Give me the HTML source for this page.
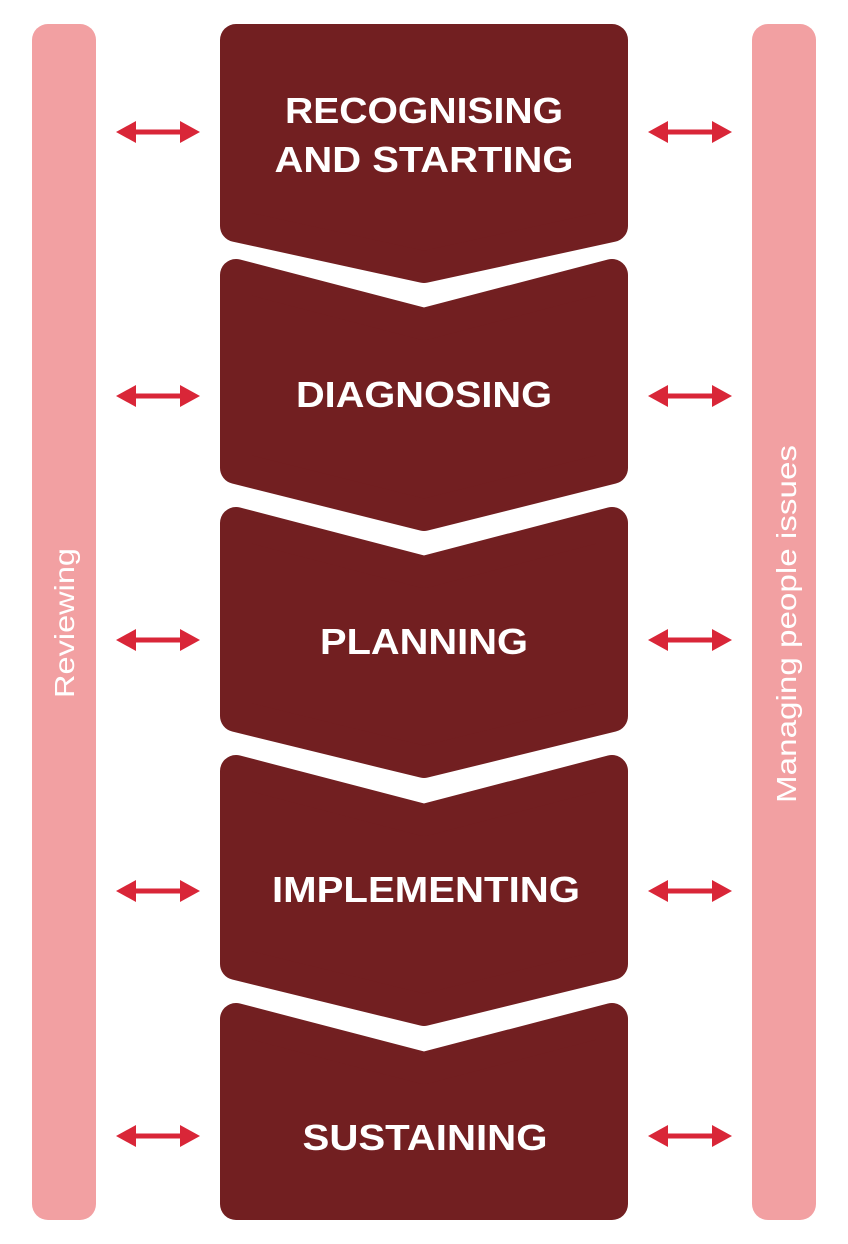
<!DOCTYPE html>
<html><head><meta charset="utf-8"><style>html,body{margin:0;padding:0;background:#fff}svg{display:block}</style></head>
<body>
<svg width="848" height="1244" viewBox="0 0 848 1244" xmlns="http://www.w3.org/2000/svg">
<defs>
<g id="arr"><path d="M0,0 L20,-11 L20,-2.5 L64,-2.5 L64,-11 L84,0 L64,11 L64,2.5 L20,2.5 L20,11 Z" fill="#d92638"/></g>
</defs>
<rect x="32" y="24" width="64" height="1196" rx="16" fill="#f2a0a2"/>
<rect x="752" y="24" width="64" height="1196" rx="16" fill="#f2a0a2"/>
<text transform="translate(74,623) rotate(-90)" text-anchor="middle" font-family="Liberation Sans, sans-serif" font-size="28" fill="#fff" textLength="150" lengthAdjust="spacingAndGlyphs">Reviewing</text>
<text transform="translate(796,624) rotate(-90)" text-anchor="middle" font-family="Liberation Sans, sans-serif" font-size="28" fill="#fff" textLength="358" lengthAdjust="spacingAndGlyphs">Managing people issues</text>
<g fill="#721f21" stroke="#721f21" stroke-width="32" stroke-linejoin="round">
<polygon points="236,40 612,40 612,226 424,267 236,226"/>
<polygon points="236,275 424,324 612,275 612,468 424,515 236,468"/>
<polygon points="236,523 424,572 612,523 612,716 424,762 236,716"/>
<polygon points="236,771 424,820 612,771 612,964 424,1010 236,964"/>
<polygon points="236,1019 424,1068 612,1019 612,1204 236,1204"/>
</g>
<g font-family="Liberation Sans, sans-serif" font-weight="bold" font-size="36" fill="#fff" text-anchor="middle">
<text x="424" y="123" textLength="278" lengthAdjust="spacingAndGlyphs">RECOGNISING</text>
<text x="424" y="172" textLength="299" lengthAdjust="spacingAndGlyphs">AND STARTING</text>
<text x="424" y="407" textLength="256" lengthAdjust="spacingAndGlyphs">DIAGNOSING</text>
<text x="424" y="654" textLength="208" lengthAdjust="spacingAndGlyphs">PLANNING</text>
<text x="426" y="902" textLength="308" lengthAdjust="spacingAndGlyphs">IMPLEMENTING</text>
<text x="425" y="1150" textLength="245" lengthAdjust="spacingAndGlyphs">SUSTAINING</text>
</g>
<use href="#arr" x="116" y="132"/><use href="#arr" x="648" y="132"/>
<use href="#arr" x="116" y="396"/><use href="#arr" x="648" y="396"/>
<use href="#arr" x="116" y="640"/><use href="#arr" x="648" y="640"/>
<use href="#arr" x="116" y="891"/><use href="#arr" x="648" y="891"/>
<use href="#arr" x="116" y="1136"/><use href="#arr" x="648" y="1136"/>
</svg>
</body></html>
